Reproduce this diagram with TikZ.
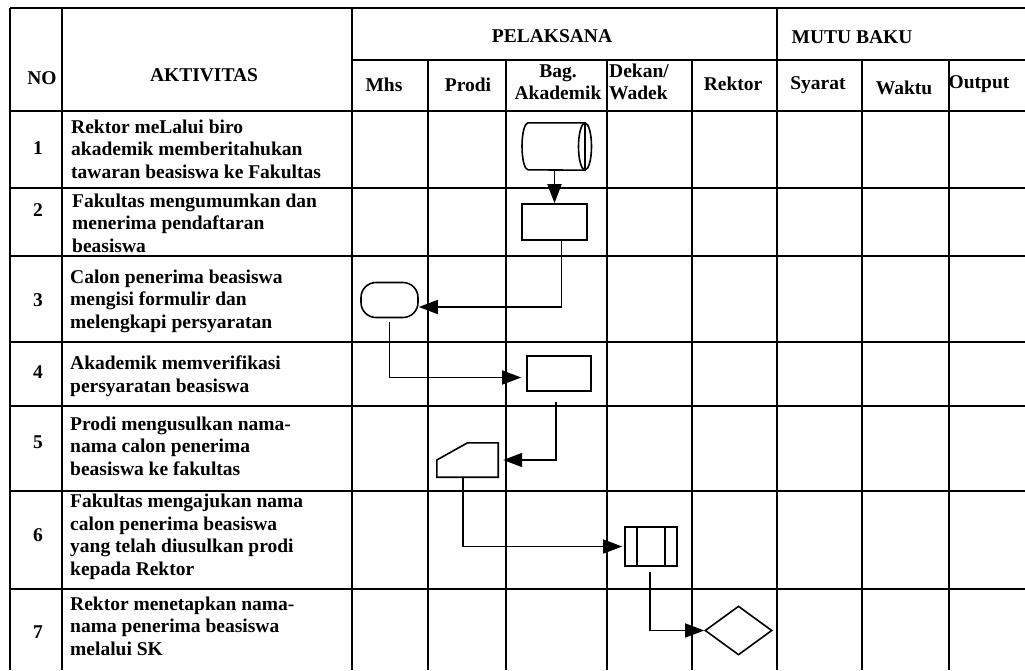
\documentclass[tikz,border=0pt]{standalone}
\usepackage{fontspec}
\setmainfont{Liberation Serif}
\usetikzlibrary{arrows.meta,shapes.geometric}

\begin{document}
\begin{tikzpicture}[x=1pt, y=-1pt,
    font=\fontsize{19.5}{22.5}\selectfont\bfseries,
    grid/.style={line width=2pt},
    box/.style={draw, line width=1.6pt, inner sep=0pt},
    flow/.style={line width=1.6pt, -{Triangle[length=19pt,width=14pt]}},
    txt/.style={anchor=west, align=left, inner sep=0pt}]
      \useasboundingbox (0,0) rectangle (1025,670);

      % table
      \draw[grid] (10,8) -- (1025,8);
      \draw[grid] (352,60) -- (1025,60);
      \draw[grid] (10,111) -- (1025,111);
      \draw[grid] (10,188) -- (1025,188);
      \draw[grid] (10,256) -- (1025,256);
      \draw[grid] (10,342) -- (1025,342);
      \draw[grid] (10,406) -- (1025,406);
      \draw[grid] (10,491) -- (1025,491);
      \draw[grid] (10,589) -- (1025,589);
      \draw[grid] (10,8) -- (10,670);
      \draw[grid] (62,8) -- (62,670);
      \draw[grid] (352,8) -- (352,670);
      \draw[grid] (777,8) -- (777,670);
      \draw[grid] (428,60) -- (428,670);
      \draw[grid] (506,60) -- (506,670);
      \draw[grid] (607,60) -- (607,670);
      \draw[grid] (692,60) -- (692,670);
      \draw[grid] (862,60) -- (862,670);
      \draw[grid] (949,60) -- (949,670);

      % header
      \node (no) at (42,78) {NO};
      \node (aktivitas) at (204,75) {AKTIVITAS};
      \node (pelaksana) at (552,36) {PELAKSANA};
      \node (mutu) at (852,37) {MUTU BAKU};
      \node (mhs) at (384,85) {Mhs};
      \node (prodi) at (468,85) {Prodi};
      \node[align=center, inner sep=0pt] (bag) at (558,82) {Bag.\\Akademik};
      \node[txt] (dekan) at (609,82) {Dekan/\\Wadek};
      \node (rektor) at (733,84) {Rektor};
      \node (syarat) at (818,85) {Syarat};
      \node (waktu) at (904,88) {Waktu};
      \node (output) at (979,84) {Output};

      % rows
      \node (n1) at (38,148) {1};
      \node (n2) at (38,210) {2};
      \node (n3) at (38,300) {3};
      \node (n4) at (38,372) {4};
      \node (n5) at (38,442) {5};
      \node (n6) at (38,535) {6};
      \node (n7) at (38,632) {7};
      \node[txt] (act1) at (71,149) {Rektor meLalui biro\\akademik memberitahukan\\tawaran beasiswa ke Fakultas};
      \node[txt] (act2) at (72,223) {Fakultas mengumumkan dan\\menerima pendaftaran\\beasiswa};
      \node[txt] (act3) at (70,301) {Calon penerima beasiswa\\mengisi formulir dan\\melengkapi persyaratan};
      \node[txt] (act4) at (70,376) {Akademik memverifikasi\\persyaratan beasiswa};
      \node[txt] (act5) at (70,446) {Prodi mengusulkan nama-\\nama calon penerima\\beasiswa ke fakultas};
      \node[txt] (act6) at (70,537) {Fakultas mengajukan nama\\calon penerima beasiswa\\yang telah diusulkan prodi\\kepada Rektor};
      \node[txt] (act7) at (70,626) {Rektor menetapkan nama-\\nama penerima beasiswa\\melalui SK};

      % flow shapes
      \node[minimum width=69pt, minimum height=47pt, inner sep=0pt] (cyl) at (556.5,146.5) {};
      \draw[line width=1.6pt] ([xshift=-28.5pt]cyl.north)
            arc[start angle=90, end angle=270, x radius=6pt, y radius=23.5pt]
            -- ([xshift=28.5pt]cyl.south) -- ([xshift=28.5pt]cyl.north) -- cycle;
      \draw[line width=1.6pt] ([xshift=28.5pt]cyl.center) ellipse [x radius=6.5pt, y radius=23.5pt];
      \node[box, minimum width=65pt, minimum height=36pt] (proc2) at (554.5,222) {};
      \node[box, rounded corners=15pt, minimum width=57pt, minimum height=35pt] (term) at (389.5,300) {};
      \node[box, minimum width=64pt, minimum height=35pt] (proc4) at (559,373.5) {};
      \node[minimum width=61pt, minimum height=34pt, inner sep=0pt] (prodi5) at (467.5,460) {};
      \draw[line width=1.6pt] (prodi5.south west) -- (prodi5.west) -- (prodi5.north)
            -- (prodi5.north east) -- (prodi5.south east) -- cycle;
      \node[box, minimum width=52pt, minimum height=39pt] (p6) at (651,546.5) {};
      \draw[line width=1.6pt] ([xshift=13pt]p6.north west) -- ([xshift=13pt]p6.south west);
      \draw[line width=1.6pt] ([xshift=-13pt]p6.north east) -- ([xshift=-13pt]p6.south east);
      \node[box, diamond, minimum width=67pt, minimum height=49pt] (dia) at (738.5,630.5) {};

      % connectors
      \draw[flow] ([xshift=-2pt]cyl.south) -- (proc2.north);
      \draw[flow] ([xshift=7pt]proc2.south) |- ([yshift=-7pt]term.east);
      \draw[flow, shorten <=4pt, shorten >=5pt] (term.south) |- ([yshift=-4pt]proc4.west);
      \draw[flow, shorten <=10pt, shorten >=5pt] ([xshift=-3pt]proc4.south) |- (prodi5.east);
      \draw[flow, shorten >=2pt] ([xshift=-4.5pt]prodi5.south) |- (p6.west);
      \draw[flow, shorten <=5pt] ([xshift=-1pt]p6.south) |- (dia.west);
   \end{tikzpicture}
\end{document}
